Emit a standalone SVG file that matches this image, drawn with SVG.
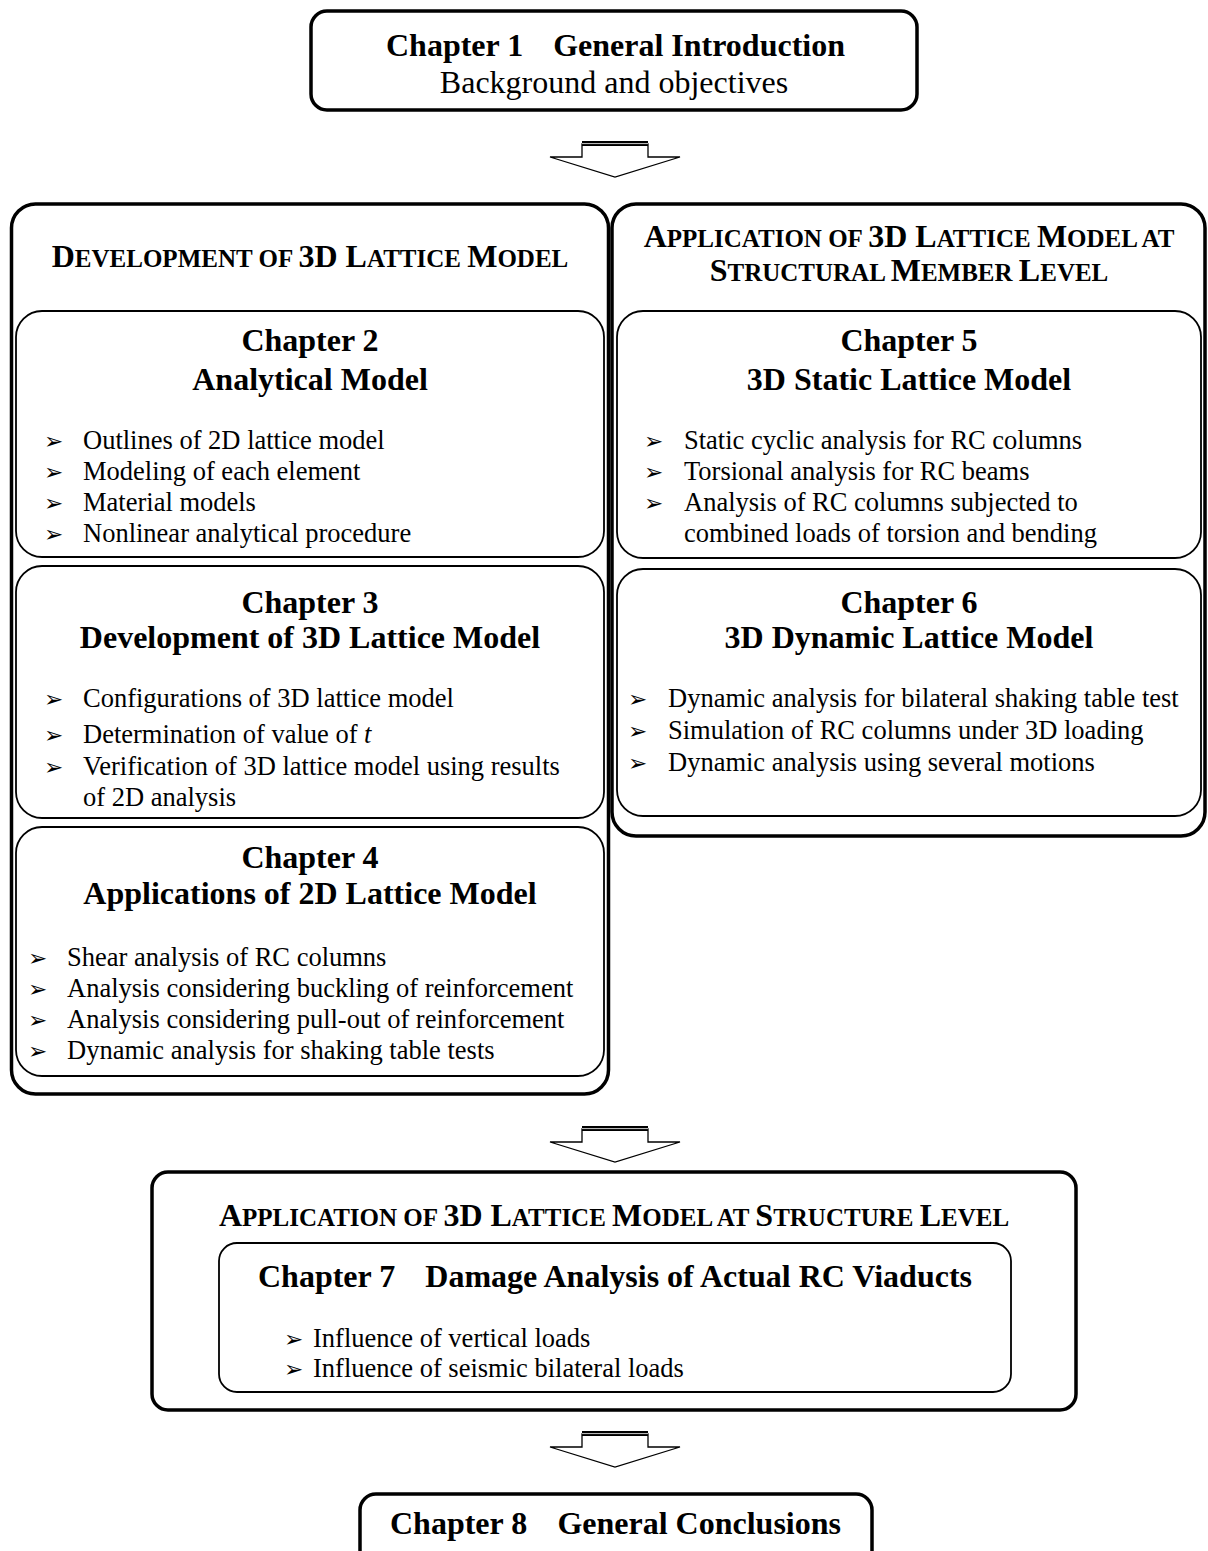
<svg xmlns="http://www.w3.org/2000/svg" width="1208" height="1551" viewBox="0 0 1208 1551">
<style>
.outer{fill:#fff;stroke:#000;stroke-width:3.5}
.inner{fill:#fff;stroke:#000;stroke-width:1.8}
.h{font-family:"Liberation Serif","Times New Roman",serif;font-weight:bold;font-size:32px;fill:#000}
.r{font-family:"Liberation Serif","Times New Roman",serif;font-size:32px;fill:#000}
.b{font-family:"Liberation Serif","Times New Roman",serif;font-size:26.5px;fill:#000}
.bl{font-family:"DejaVu Sans",sans-serif;font-size:23px;fill:#000}
.sc{font-family:"Liberation Serif","Times New Roman",serif;font-weight:bold;font-size:32px;fill:#000}
.s{font-size:25px}
.c{text-anchor:middle}
.e{text-anchor:end}
.arw{fill:#fff;stroke:#000;stroke-width:1.3}
</style>
<defs>
<g id="arrow">
<polygon class="arw" points="-33,3 33,3 33,16 65,16 0,36 -65,16 -33,16"/>
<rect x="-33" y="0" width="66" height="5" fill="#000"/>
<line x1="-33" y1="2.6" x2="33" y2="2.6" stroke="#fff" stroke-width="0.8"/>
</g>
</defs>

<g id="connectors">
<use href="#arrow" transform="translate(615,141)"/>
<use href="#arrow" transform="translate(615,1126)"/>
<use href="#arrow" transform="translate(615,1431)"/>
</g>

<g id="chapter1">
<rect class="outer" x="311" y="11" width="606" height="99" rx="16"/>
<text class="h" x="386" y="56">Chapter 1</text>
<text class="h e" x="845" y="56">General Introduction</text>
<text class="r c" x="614" y="93">Background and objectives</text>
</g>

<g id="group-right">
<rect class="outer" x="612" y="204" width="593" height="632" rx="24"/>
<text class="sc c" x="909" y="247">A<tspan class="s">PPLICATION OF </tspan>3D L<tspan class="s">ATTICE </tspan>M<tspan class="s">ODEL AT</tspan></text>
<text class="sc c" x="909" y="281">S<tspan class="s">TRUCTURAL </tspan>M<tspan class="s">EMBER </tspan>L<tspan class="s">EVEL</tspan></text>
</g>

<g id="group-left">
<rect class="outer" x="11.5" y="204" width="597" height="890" rx="24"/>
<text class="sc c" x="310" y="267">D<tspan class="s">EVELOPMENT OF </tspan>3D L<tspan class="s">ATTICE </tspan>M<tspan class="s">ODEL</tspan></text>
</g>

<g id="chapter2">
<rect class="inner" x="16" y="311" width="588" height="246" rx="26"/>
<text class="h c" x="310" y="351">Chapter 2</text>
<text class="h c" x="310" y="390">Analytical Model</text>
<text class="bl" x="44" y="449">➢</text><text class="b" x="83" y="449">Outlines of 2D lattice model</text>
<text class="bl" x="44" y="480">➢</text><text class="b" x="83" y="480">Modeling of each element</text>
<text class="bl" x="44" y="511">➢</text><text class="b" x="83" y="511">Material models</text>
<text class="bl" x="44" y="542">➢</text><text class="b" x="83" y="542">Nonlinear analytical procedure</text>
</g>

<g id="chapter3">
<rect class="inner" x="16" y="566" width="588" height="252" rx="26"/>
<text class="h c" x="310" y="613">Chapter 3</text>
<text class="h c" x="310" y="648">Development of 3D Lattice Model</text>
<text class="bl" x="44" y="707">➢</text><text class="b" x="83" y="707">Configurations of 3D lattice model</text>
<text class="bl" x="44" y="743">➢</text><text class="b" x="83" y="743">Determination of value of <tspan font-style="italic">t</tspan></text>
<text class="bl" x="44" y="775">➢</text><text class="b" x="83" y="775">Verification of 3D lattice model using results</text>
<text class="b" x="83" y="806">of 2D analysis</text>
</g>

<g id="chapter4">
<rect class="inner" x="16" y="827" width="588" height="249" rx="26"/>
<text class="h c" x="310" y="868">Chapter 4</text>
<text class="h c" x="310" y="904">Applications of 2D Lattice Model</text>
<text class="bl" x="28" y="966">➢</text><text class="b" x="67" y="966">Shear analysis of RC columns</text>
<text class="bl" x="28" y="997">➢</text><text class="b" x="67" y="997">Analysis considering buckling of reinforcement</text>
<text class="bl" x="28" y="1028">➢</text><text class="b" x="67" y="1028">Analysis considering pull-out of reinforcement</text>
<text class="bl" x="28" y="1059">➢</text><text class="b" x="67" y="1059">Dynamic analysis for shaking table tests</text>
</g>

<g id="chapter5">
<rect class="inner" x="617" y="311" width="584" height="247" rx="26"/>
<text class="h c" x="909" y="351">Chapter 5</text>
<text class="h c" x="909" y="390">3D Static Lattice Model</text>
<text class="bl" x="644" y="449">➢</text><text class="b" x="684" y="449">Static cyclic analysis for RC columns</text>
<text class="bl" x="644" y="480">➢</text><text class="b" x="684" y="480">Torsional analysis for RC beams</text>
<text class="bl" x="644" y="511">➢</text><text class="b" x="684" y="511">Analysis of RC columns subjected to</text>
<text class="b" x="684" y="542">combined loads of torsion and bending</text>
</g>

<g id="chapter6">
<rect class="inner" x="617" y="569" width="584" height="247" rx="26"/>
<text class="h c" x="909" y="613">Chapter 6</text>
<text class="h c" x="909" y="648">3D Dynamic Lattice Model</text>
<text class="bl" x="628" y="707">➢</text><text class="b" x="668" y="707">Dynamic analysis for bilateral shaking table test</text>
<text class="bl" x="628" y="739">➢</text><text class="b" x="668" y="739">Simulation of RC columns under 3D loading</text>
<text class="bl" x="628" y="771">➢</text><text class="b" x="668" y="771">Dynamic analysis using several motions</text>
</g>

<g id="group-bottom">
<rect class="outer" x="152" y="1172" width="924" height="238" rx="16"/>
<text class="sc c" x="614" y="1226">A<tspan class="s">PPLICATION OF </tspan>3D L<tspan class="s">ATTICE </tspan>M<tspan class="s">ODEL AT </tspan>S<tspan class="s">TRUCTURE </tspan>L<tspan class="s">EVEL</tspan></text>
</g>

<g id="chapter7">
<rect class="inner" x="219" y="1243" width="792" height="149" rx="18"/>
<text class="h" x="258" y="1287">Chapter 7</text>
<text class="h e" x="972" y="1287">Damage Analysis of Actual RC Viaducts</text>
<text class="bl" x="284" y="1347">➢</text><text class="b" x="313" y="1347">Influence of vertical loads</text>
<text class="bl" x="284" y="1377">➢</text><text class="b" x="313" y="1377">Influence of seismic bilateral loads</text>
</g>

<g id="chapter8">
<rect class="outer" x="360" y="1494" width="512" height="90" rx="16"/>
<text class="h" x="390" y="1534">Chapter 8</text>
<text class="h e" x="841" y="1534">General Conclusions</text>
</g>
</svg>
